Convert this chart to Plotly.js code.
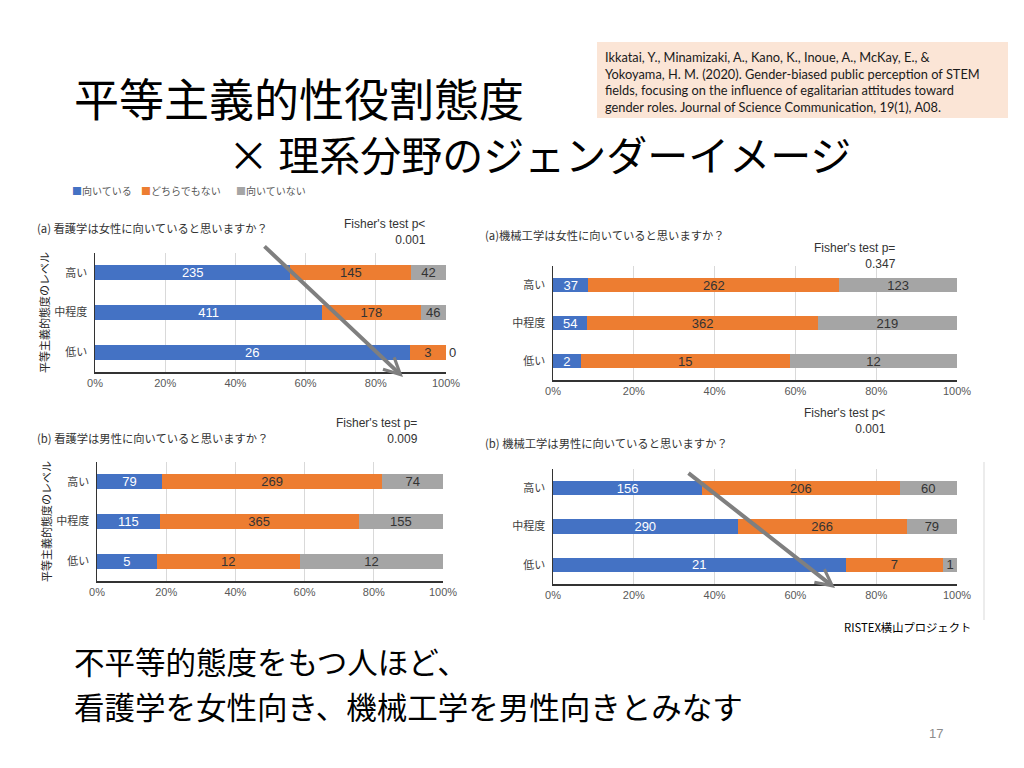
<!DOCTYPE html>
<html>
<head>
<meta charset="utf-8">
<script src="https://cdn.plot.ly/plotly-3.0.1.min.js"></script>
<style>
  html, body { margin: 0; padding: 0; background: #fff; }
  #slide { width: 1024px; height: 768px; }
</style>
</head>
<body>
<div id="slide"></div>
<script>
// categories
var levels = ['高い', '中程度', '低い'];
var responses = ['向いている', 'どちらでもない', '向いていない'];

// (a) nursing, suited to women
var nursingWomenYes = [235, 411, 26];
var nursingWomenMid = [145, 178, 3];
var nursingWomenNo = [42, 46, 0];
// (a) mechanical engineering, suited to women
var mechWomenYes = [37, 54, 2];
var mechWomenMid = [262, 362, 15];
var mechWomenNo = [123, 219, 12];
// (b) nursing, suited to men
var nursingMenYes = [79, 115, 5];
var nursingMenMid = [269, 365, 12];
var nursingMenNo = [74, 155, 12];
// (b) mechanical engineering, suited to men
var mechMenYes = [156, 290, 21];
var mechMenMid = [206, 266, 7];
var mechMenNo = [60, 79, 1];

var panelTitles = [
    '(a) 看護学は女性に向いていると思いますか？',
    '(a)機械工学は女性に向いていると思いますか？',
    '(b) 看護学は男性に向いていると思いますか？',
    '(b) 機械工学は男性に向いていると思いますか？'
];
var fisherText = ["Fisher's test p<<br>0.001", "Fisher's test p=<br>0.347",
    "Fisher's test p=<br>0.009", "Fisher's test p<<br>0.001"];

var citation = [
    'Ikkatai, Y., Minamizaki, A., Kano, K., Inoue, A., McKay, E., &',
    'Yokoyama, H. M. (2020). Gender-biased public perception of STEM',
    'fields, focusing on the influence of egalitarian attitudes toward',
    'gender roles. Journal of Science Communication, 19(1), A08.'
];

var conclusion = ['不平等的態度をもつ人ほど、', '看護学を女性向き、機械工学を男性向きとみなす'];

var colors = ['#4472C4', '#ED7D31', '#A5A5A5'];
var textColors = ['#ffffff', '#333333', '#333333'];
var JP = '"Noto Sans CJK JP", sans-serif';
var AR = '"Liberation Sans", Arial, sans-serif';

function px(x) { return x / 1024; }
function py(y) { return 1 - y / 768; }

var panelData = [
    [nursingWomenYes, nursingWomenMid, nursingWomenNo],
    [mechWomenYes, mechWomenMid, mechWomenNo],
    [nursingMenYes, nursingMenMid, nursingMenNo],
    [mechMenYes, mechMenMid, mechMenNo]
];

// pixel boxes of each plot area: left, right, top, bottom
var boxes = [
    { l: 95, r: 446, t: 253, b: 372, titleX: 35, titleY: 228, fx: 428, fy: 232, ytitle: true },
    { l: 553, r: 957, t: 266, b: 380, titleX: 483, titleY: 235, fx: 898, fy: 256, ytitle: false },
    { l: 97, r: 443, t: 462, b: 581, titleX: 35, titleY: 438, fx: 420, fy: 431, ytitle: true },
    { l: 553, r: 957, t: 469, b: 584, titleX: 483, titleY: 443, fx: 888, fy: 421, ytitle: false }
];

var data = [];
var layout = {
    width: 1024,
    height: 768,
    margin: { l: 0, r: 0, t: 0, b: 0 },
    paper_bgcolor: '#ffffff',
    plot_bgcolor: '#ffffff',
    barmode: 'stack',
    barnorm: 'percent',
    bargap: 0.62,
    showlegend: false,
    shapes: [],
    annotations: []
};

panelData.forEach(function (series, p) {
    var sfx = p === 0 ? '' : String(p + 1);
    var b = boxes[p];
    series.forEach(function (vals, s) {
        data.push({
            type: 'bar',
            orientation: 'h',
            name: responses[s],
            y: levels,
            x: vals,
            xaxis: 'x' + sfx,
            yaxis: 'y' + sfx,
            marker: { color: colors[s] },
            text: vals.map(String),
            textposition: vals.map(function (v) { return v === 0 ? 'outside' : 'inside'; }),
            insidetextanchor: 'middle',
            textangle: 0,
            constraintext: 'none',
            cliponaxis: false,
            insidetextfont: { family: AR, size: 13, color: textColors[s] },
            outsidetextfont: { family: AR, size: 13, color: textColors[s] },
            hoverinfo: 'name+x'
        });
    });

    layout['xaxis' + sfx] = {
        domain: [px(b.l), px(b.r)],
        anchor: 'y' + sfx,
        range: [0, 100],
        dtick: 20,
        ticksuffix: '%',
        showgrid: true,
        gridcolor: '#d9d9d9',
        showline: true,
        linecolor: '#333333',
        linewidth: 1.5,
        zeroline: false,
        ticks: '',
        tickfont: { family: AR, size: 11, color: '#595959' }
    };
    layout['yaxis' + sfx] = {
        domain: [py(b.b), py(b.t)],
        anchor: 'x' + sfx,
        type: 'category',
        range: [2.5, -0.5],
        showgrid: false,
        showline: true,
        linecolor: '#333333',
        linewidth: 1.5,
        ticks: '',
        ticklabelstandoff: 4,
        tickfont: { family: JP, size: 11, color: '#404040' },
        title: b.ytitle ? { text: '平等主義的態度のレベル', font: { family: JP, size: 11, color: '#262626' } } : { text: '' }
    };

    layout.annotations.push({
        xref: 'paper', yref: 'paper', x: px(b.titleX), y: py(b.titleY),
        xanchor: 'left', yanchor: 'middle', showarrow: false,
        text: panelTitles[p], font: { family: JP, size: 11.3, color: '#333333' }
    });
    layout.annotations.push({
        xref: 'paper', yref: 'paper', x: px(b.fx), y: py(b.fy),
        xanchor: 'right', yanchor: 'middle', align: 'right', showarrow: false,
        text: fisherText[p], font: { family: AR, size: 12, color: '#333333' }
    });
});

// legend row built from the series names
var legendX = [70, 139, 234];
responses.forEach(function (name, s) {
    layout.annotations.push({
        xref: 'paper', yref: 'paper', x: px(legendX[s]), y: py(191),
        xanchor: 'left', yanchor: 'middle', showarrow: false,
        text: '<span style="color:' + colors[s] + '">■</span>' + name,
        font: { family: JP, size: 10, color: '#595959' }
    });
});

// slide title
layout.annotations.push({
    xref: 'paper', yref: 'paper', x: px(72), y: py(98), xanchor: 'left', yanchor: 'middle',
    showarrow: false, text: '平等主義的性役割態度', font: { family: JP, size: 45, color: '#000000' }
});
layout.annotations.push({
    xref: 'paper', yref: 'paper', x: px(226), y: py(153), xanchor: 'left', yanchor: 'middle',
    showarrow: false, text: '× 理系分野のジェンダーイメージ', font: { family: JP, size: 41, color: '#000000' }
});

// citation box
layout.shapes.push({
    type: 'rect', xref: 'paper', yref: 'paper',
    x0: px(597), x1: px(1008), y0: py(118), y1: py(42),
    fillcolor: '#FBE5D6', line: { width: 0 }, layer: 'below'
});
citation.forEach(function (line, i) {
    layout.annotations.push({
        xref: 'paper', yref: 'paper', x: px(603), y: py(57 + i * 16.7),
        xanchor: 'left', yanchor: 'middle', showarrow: false,
        text: line, font: { family: 'Lato, "Open Sans", sans-serif', size: 12.8, color: '#1a1a1a' }
    });
});

// trend arrows
layout.annotations.push({
    xref: 'paper', yref: 'paper', x: px(403), y: py(377), ax: -140, ay: -132,
    text: '', showarrow: true, arrowhead: 5, arrowsize: 0.8, arrowwidth: 4, arrowcolor: '#7f7f7f'
});
layout.annotations.push({
    xref: 'paper', yref: 'paper', x: px(835), y: py(588), ax: -148, ay: -116,
    text: '', showarrow: true, arrowhead: 5, arrowsize: 0.8, arrowwidth: 4, arrowcolor: '#7f7f7f'
});

// thin frame line right of the last chart
layout.shapes.push({
    type: 'line', xref: 'paper', yref: 'paper',
    x0: px(984), x1: px(984), y0: py(620), y1: py(462),
    line: { color: '#d9d9d9', width: 1 }
});

layout.annotations.push({
    xref: 'paper', yref: 'paper', x: px(842), y: py(627), xanchor: 'left', yanchor: 'middle',
    showarrow: false, text: 'RISTEX横山プロジェクト', font: { family: JP, size: 11.3, color: '#000000' }
});

// conclusion, two lines
var conclusionY = [661, 706];
conclusion.forEach(function (line, i) {
    layout.annotations.push({
        xref: 'paper', yref: 'paper', x: px(72), y: py(conclusionY[i]), xanchor: 'left', yanchor: 'middle',
        showarrow: false, text: line, font: { family: JP, size: 30.5, color: '#000000' }
    });
});
layout.annotations.push({
    xref: 'paper', yref: 'paper', x: px(936), y: py(733), xanchor: 'center', yanchor: 'middle',
    showarrow: false, text: '17', font: { family: AR, size: 13, color: '#8c8c8c' }
});

Plotly.newPlot('slide', data, layout, { displayModeBar: false, staticPlot: true });
</script>
</body>
</html>
